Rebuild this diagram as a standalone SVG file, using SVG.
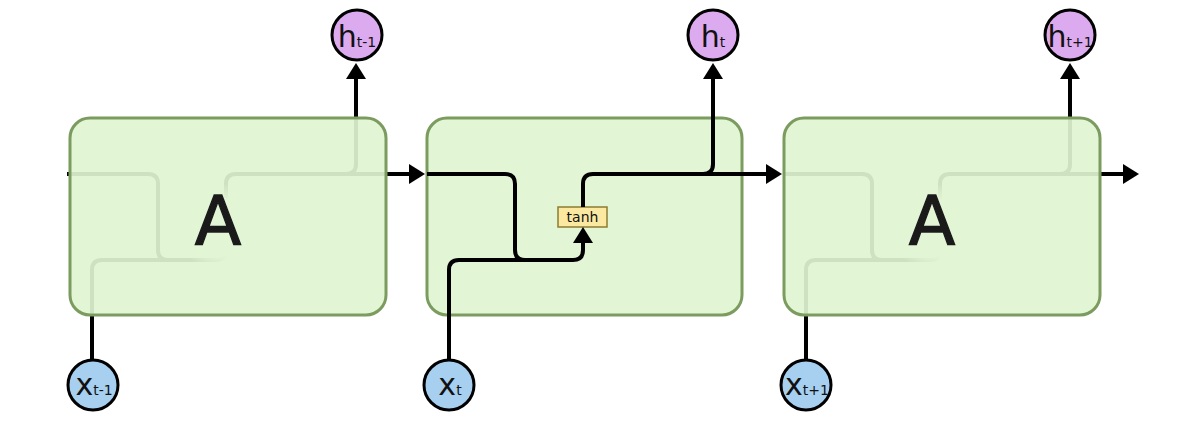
<svg xmlns="http://www.w3.org/2000/svg" width="1200" height="434" viewBox="0 0 1200 434">
  <style>
    .wire{fill:none;stroke:#000;stroke-width:4}
    .arrow{marker-end:url(#ah)}
    .box{fill:#dff5d2;fill-opacity:0.92;stroke:#7b9b5f;stroke-width:3}
    .hc{fill:#dcaaee;stroke:#000;stroke-width:3}
    .xc{fill:#a6cff0;stroke:#000;stroke-width:3}
    .lbl{font-family:"DejaVu Sans","Liberation Sans",sans-serif;fill:#111}
    .big{font-size:68px;fill:#1a1a1a;stroke:#1a1a1a;stroke-width:1.3}
    .var{font-size:30px}
    .sub{font-size:14px}
    .tanh{fill:#fbe9a2;stroke:#8c7c30;stroke-width:1.5}
  </style>
  <defs>
    <marker id="ah" markerUnits="userSpaceOnUse" markerWidth="20" markerHeight="20" refX="12" refY="10" orient="auto">
      <path d="M0,0 L16,10 L0,20 z" fill="#000"/>
    </marker>
    <radialGradient id="fade1" gradientUnits="userSpaceOnUse" cx="222" cy="228" r="50">
      <stop offset="0.55" stop-color="#000"/>
      <stop offset="0.9" stop-color="#fff"/>
    </radialGradient>
    <radialGradient id="fade3" gradientUnits="userSpaceOnUse" cx="936" cy="228" r="50">
      <stop offset="0.55" stop-color="#000"/>
      <stop offset="0.9" stop-color="#fff"/>
    </radialGradient>
    <mask id="m1" maskUnits="userSpaceOnUse" x="0" y="0" width="1200" height="434">
      <rect x="0" y="0" width="1200" height="434" fill="url(#fade1)"/>
    </mask>
    <mask id="m3" maskUnits="userSpaceOnUse" x="0" y="0" width="1200" height="434">
      <rect x="0" y="0" width="1200" height="434" fill="url(#fade3)"/>
    </mask>
  </defs>

  <rect x="0" y="0" width="1200" height="434" fill="#fff"/>

  <g id="cell-t">
    <rect class="box" x="427" y="118" width="315" height="197" rx="20" ry="20"/>
  </g>

  <g id="tanh-t">
    <rect class="tanh" x="558" y="207" width="49" height="20"/>
    <text class="lbl" x="582.5" y="222" font-size="14" text-anchor="middle">tanh</text>
  </g>

  <g id="connectors">
    <g mask="url(#m1)">
      <path class="wire" d="M67,174 H148 Q158,174 158,184 V250 Q158,260 168,260"/>
      <path class="wire arrow" d="M92,360 V270 Q92,260 102,260 H216 Q226,260 226,250 V231"/>
      <path class="wire arrow" d="M226,207 V184 Q226,174 236,174 H421"/>
      <path class="wire arrow" d="M346,174 Q356,174 356,164 V67"/>
    </g>
    <g>
      <path class="wire" d="M427,174 H505 Q515,174 515,184 V250 Q515,260 525,260"/>
      <path class="wire arrow" d="M449,360 V270 Q449,260 459,260 H573 Q583,260 583,250 V231"/>
      <path class="wire arrow" d="M583,207 V184 Q583,174 593,174 H778"/>
      <path class="wire arrow" d="M703,174 Q713,174 713,164 V67"/>
    </g>
    <g mask="url(#m3)">
      <path class="wire" d="M784,174 H862 Q872,174 872,184 V250 Q872,260 882,260"/>
      <path class="wire arrow" d="M806,360 V270 Q806,260 816,260 H930 Q940,260 940,250 V231"/>
      <path class="wire arrow" d="M940,207 V184 Q940,174 950,174 H1135"/>
      <path class="wire arrow" d="M1060,174 Q1070,174 1070,164 V67"/>
    </g>
  </g>

  <g id="A-prev">
    <rect class="box" x="70" y="118" width="316" height="197" rx="20" ry="20"/>
    <text class="lbl big" x="218" y="245" text-anchor="middle">A</text>
  </g>

  <g id="A-next">
    <rect class="box" x="784" y="118" width="316" height="197" rx="20" ry="20"/>
    <text class="lbl big" x="932" y="245" text-anchor="middle">A</text>
  </g>

  <g id="h-prev">
    <circle class="hc" cx="357" cy="35" r="25"/>
    <text class="lbl var" x="357" y="47" text-anchor="middle">h<tspan class="sub">t-1</tspan></text>
  </g>
  <g id="h-t">
    <circle class="hc" cx="713" cy="35" r="25"/>
    <text class="lbl var" x="713" y="47" text-anchor="middle">h<tspan class="sub">t</tspan></text>
  </g>
  <g id="h-next">
    <circle class="hc" cx="1070" cy="35" r="25"/>
    <text class="lbl var" x="1070" y="47" text-anchor="middle">h<tspan class="sub">t+1</tspan></text>
  </g>

  <g id="x-prev">
    <circle class="xc" cx="93" cy="385" r="25"/>
    <text class="lbl var" x="94" y="395" text-anchor="middle">x<tspan class="sub">t-1</tspan></text>
  </g>
  <g id="x-t">
    <circle class="xc" cx="449" cy="385" r="25"/>
    <text class="lbl var" x="450" y="395" text-anchor="middle">x<tspan class="sub">t</tspan></text>
  </g>
  <g id="x-next">
    <circle class="xc" cx="806" cy="385" r="25"/>
    <text class="lbl var" x="807" y="395" text-anchor="middle">x<tspan class="sub">t+1</tspan></text>
  </g>
</svg>
